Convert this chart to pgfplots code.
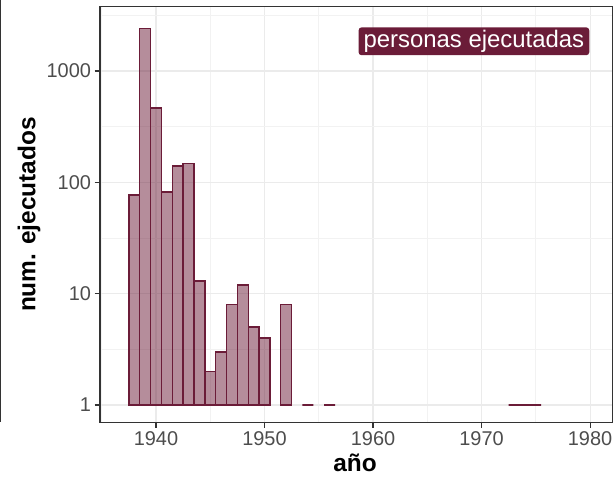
\documentclass[border=0pt]{standalone}
\usepackage{fontspec}
\setmainfont{Liberation Sans}
\usepackage{pgfplots}
\pgfplotsset{compat=1.18}
\definecolor{wine}{RGB}{107,28,56}
\definecolor{gridmaj}{RGB}{235,235,235}
\definecolor{gridmin}{RGB}{242,242,242}
\definecolor{frame}{RGB}{51,51,51}
\definecolor{ticktext}{RGB}{77,77,77}
\begin{document}
\begin{tikzpicture}
\path[use as bounding box] (0,0) rectangle (615bp,478bp);
\draw[color=frame, line width=0.8bp] (0.8bp,56bp) -- (0.8bp,478bp);
\begin{axis}[
  at={(100bp,55.5bp)}, anchor=south west,
  scale only axis, width=512.5bp, height=416bp,
  xmin=1934.84, xmax=1982.07,
  ymode=log, ymin=0.696, ymax=3800,
  log origin y=0,
  xtick={1940,1950,1960,1970,1980},
  xticklabels={1940,1950,1960,1970,1980},
  minor xtick={1935,1945,1955,1965,1975},
  ytick={1,10,100,1000}, yticklabels={1,10,100,1000},
  minor ytick={3.1623,31.623,316.23,3162.3},
  grid=both,
  major grid style={color=gridmaj, line width=1.07bp},
  minor grid style={color=gridmin, line width=0.6bp},
  axis line style={color=frame, line width=1.07bp},
  tick align=outside, tick pos=left,
  major tick length=5.5bp, minor tick length=0bp,
  tick style={color=frame, line width=1.07bp},
  ticklabel style={font=\fontsize{20}{20}\selectfont, text=ticktext},
  xticklabel style={yshift=-0.5bp},
  /pgf/number format/assume math mode=true,
  xlabel={año}, ylabel={num. ejecutados},
  label style={font=\fontsize{24.5}{25}\selectfont\bfseries},
  xlabel style={at={(axis description cs:0.4976,-0.1183)}, anchor=base},
  ylabel style={at={(axis description cs:-0.1385,0.5)}, anchor=center},
]
\addplot[ybar, bar width=1, bar shift=0, draw=wine, line width=1.4bp, fill=wine, fill opacity=0.5, draw opacity=1] coordinates {
(1938,77) (1939,2400) (1940,465) (1941,82) (1942,140) (1943,148)
(1944,13) (1945,2) (1946,3) (1947,8) (1948,12) (1949,5) (1950,4)
(1952,8) (1954,1) (1956,1) (1973,1) (1974,1) (1975,1)
};
\node[fill=wine, text=white, rounded corners=3bp, inner xsep=5bp, inner ysep=2.8bp,
  font=\fontsize{24}{24}\selectfont] at (axis cs:1969.3,1850) {personas ejecutadas};
\end{axis}
\end{tikzpicture}
\end{document}
